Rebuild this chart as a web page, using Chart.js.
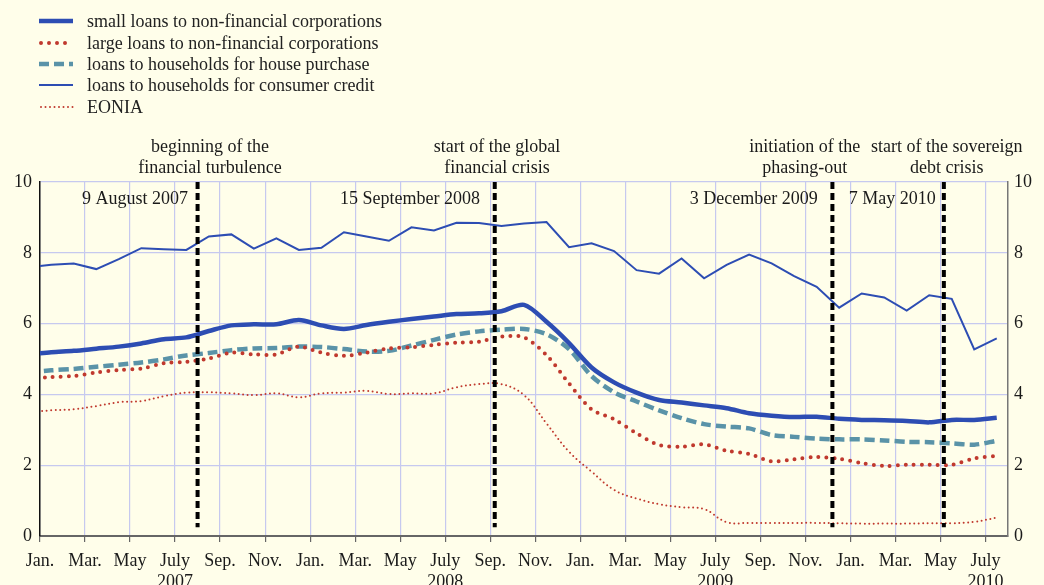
<!DOCTYPE html>
<html lang="en">
<head>
<meta charset="UTF-8">
<title>Bank lending rates and EONIA</title>
<script src="https://cdn.jsdelivr.net/npm/chart.js"></script>
<style>
  html, body { margin: 0; padding: 0; background: #fffeea; overflow: hidden; }
  #wrap { position: relative; width: 1044px; height: 600px; }
  #chart { position: absolute; left: 0; top: 0; }
  #legend { position: absolute; left: 0; top: 0; font-family: "Liberation Serif", serif; font-size: 18px; color: #222; }
  .row { position: absolute; left: 0; height: 22px; width: 420px; }
  .row svg { position: absolute; left: 0; top: 0; }
  .row span { position: absolute; left: 87px; top: 0; line-height: 22px; white-space: nowrap; }
</style>
</head>
<body>
<div id="wrap">
  <canvas id="chart" width="1044" height="600"></canvas>
  <div id="legend"></div>
</div>
<script>
// monthly points, Dec 2006 - July 2010 (the Dec 2006 point sits just left of the axis)
const months = ['Dec 2006',
  'Jan 2007','Feb 2007','Mar 2007','Apr 2007','May 2007','Jun 2007','Jul 2007','Aug 2007','Sep 2007','Oct 2007','Nov 2007','Dec 2007',
  'Jan 2008','Feb 2008','Mar 2008','Apr 2008','May 2008','Jun 2008','Jul 2008','Aug 2008','Sep 2008','Oct 2008','Nov 2008','Dec 2008',
  'Jan 2009','Feb 2009','Mar 2009','Apr 2009','May 2009','Jun 2009','Jul 2009','Aug 2009','Sep 2009','Oct 2009','Nov 2009','Dec 2009',
  'Jan 2010','Feb 2010','Mar 2010','Apr 2010','May 2010','Jun 2010','Jul 2010'];

const smallLoans = [5.13,
  5.19, 5.23, 5.29, 5.35, 5.44, 5.56, 5.61, 5.79, 5.95, 5.98, 5.98, 6.10,
  5.95, 5.85, 5.96, 6.05, 6.13, 6.20, 6.27, 6.29, 6.35, 6.53, 6.05, 5.45,
  4.76, 4.34, 4.05, 3.84, 3.77, 3.69, 3.61, 3.47, 3.40, 3.36, 3.37, 3.31,
  3.28, 3.27, 3.25, 3.21, 3.28, 3.28, 3.34];

const largeLoans = [4.45,
  4.49, 4.52, 4.62, 4.69, 4.73, 4.88, 4.92, 5.01, 5.18, 5.13, 5.13, 5.35,
  5.18, 5.09, 5.18, 5.30, 5.33, 5.40, 5.46, 5.49, 5.63, 5.61, 5.11, 4.31,
  3.58, 3.30, 2.90, 2.57, 2.52, 2.59, 2.41, 2.32, 2.11, 2.17, 2.23, 2.18,
  2.06, 1.98, 2.01, 2.01, 2.01, 2.19, 2.26];

const housePurchase = [4.62,
  4.68, 4.72, 4.78, 4.84, 4.90, 4.99, 5.10, 5.17, 5.25, 5.30, 5.31, 5.35,
  5.34, 5.28, 5.21, 5.23, 5.38, 5.54, 5.69, 5.78, 5.83, 5.85, 5.70, 5.28,
  4.52, 4.06, 3.80, 3.55, 3.33, 3.16, 3.09, 3.04, 2.85, 2.80, 2.75, 2.73,
  2.73, 2.70, 2.66, 2.65, 2.62, 2.58, 2.69];

const consumerCredit = [7.60,
  7.66, 7.70, 7.54, 7.82, 8.13, 8.10, 8.08, 8.46, 8.52, 8.12, 8.41, 8.08,
  8.14, 8.58, 8.46, 8.34, 8.72, 8.63, 8.85, 8.84, 8.76, 8.83, 8.87, 8.16,
  8.27, 8.05, 7.51, 7.41, 7.84, 7.28, 7.66, 7.95, 7.70, 7.34, 7.04, 6.45,
  6.85, 6.74, 6.37, 6.80, 6.70, 5.27, 5.58];

const eonia = [3.50,
  3.55, 3.58, 3.67, 3.78, 3.81, 3.95, 4.05, 4.06, 4.03, 3.98, 4.03, 3.92,
  4.03, 4.05, 4.10, 4.01, 4.03, 4.03, 4.20, 4.29, 4.29, 3.98, 3.18, 2.38,
  1.82, 1.30, 1.06, 0.90, 0.81, 0.76, 0.39, 0.37, 0.37, 0.37, 0.37, 0.36,
  0.35, 0.35, 0.35, 0.36, 0.36, 0.40, 0.52];

// x-axis tick labels, every two months from Jan 2007
const tickLabels = [
  'Jan.', 'Mar.', 'May', ['July', '2007'], 'Sep.', 'Nov.',
  'Jan.', 'Mar.', 'May', ['July', '2008'], 'Sep.', 'Nov.',
  'Jan.', 'Mar.', 'May', ['July', '2009'], 'Sep.', 'Nov.',
  'Jan.', 'Mar.', 'May', ['July', '2010']];

// events (months counted from the start of Jan 2007)
const eventMonth = [7.0, 20.2, 35.2, 40.15];
const eventTitle = [['beginning of the', 'financial turbulence'], ['start of the global', 'financial crisis'],
                    ['initiation of the', 'phasing-out'], ['start of the sovereign', 'debt crisis']];
const eventTitleAt = [7.55, 20.3, 33.97, 40.28];
const eventDate = ['9 August 2007', '15 September 2008', '3 December 2009', '7 May 2010'];
const eventDateEnd = [6.57, 19.54, 34.55, 39.79];

const BLUE = '#2d4db3', RED = '#c0392e', TEAL = '#5a93a8';
const GRID = '#c6c9ef';
const FONT = '"Liberation Serif", "Times New Roman", serif';

const pts = vals => vals.map((v, i) => ({ x: i - 0.5, y: v }));

const series = [
  { label: 'small loans to non-financial corporations', data: smallLoans, color: BLUE, width: 4.5, dash: [], cap: 'butt', tension: 0.3 },
  { label: 'large loans to non-financial corporations', data: largeLoans, color: RED, width: 4, dash: [0, 8], cap: 'round', tension: 0.3 },
  { label: 'loans to households for house purchase', data: housePurchase, color: TEAL, width: 4.5, dash: [10, 5], cap: 'butt', tension: 0.3 },
  { label: 'loans to households for consumer credit', data: consumerCredit, color: BLUE, width: 2, dash: [], cap: 'butt', tension: 0 },
  { label: 'EONIA', data: eonia, color: RED, width: 2, dash: [0, 4.5], cap: 'round', tension: 0.4 }
];

// legend
const legend = document.getElementById('legend');
const rowCentre = [21, 43, 64, 85, 107];
series.forEach((s, i) => {
  const row = document.createElement('div');
  row.className = 'row';
  row.style.top = (rowCentre[i] - 11) + 'px';
  const dash = s.dash.length ? `stroke-dasharray="${s.dash.join(' ')}"` : '';
  row.innerHTML = `<svg width="80" height="22"><line x1="${s.cap === 'round' ? 41 : 39}" y1="11" x2="73" y2="11"
      stroke="${s.color}" stroke-width="${s.width}" stroke-linecap="${s.cap}" ${dash}/></svg><span></span>`;
  row.querySelector('span').textContent = s.label;
  legend.appendChild(row);
});

const eventsPlugin = {
  id: 'events',
  afterDatasetsDraw(chart) {
    const { ctx, chartArea, scales: { x, y } } = chart;
    ctx.save();
    eventMonth.forEach((m, i) => {
      const px = x.getPixelForValue(m);
      ctx.setLineDash([7, 4]);
      ctx.lineWidth = 4;
      ctx.strokeStyle = '#000';
      ctx.beginPath();
      ctx.moveTo(px, chartArea.top);
      ctx.lineTo(px, y.getPixelForValue(0.25));
      ctx.stroke();

      ctx.setLineDash([]);
      ctx.fillStyle = '#1a1a1a';
      ctx.font = '18px ' + FONT;
      ctx.textBaseline = 'middle';
      ctx.textAlign = 'center';
      const tx = x.getPixelForValue(eventTitleAt[i]);
      ctx.fillText(eventTitle[i][0], tx, chartArea.top - 35);
      ctx.fillText(eventTitle[i][1], tx, chartArea.top - 14);
      ctx.textAlign = 'right';
      ctx.fillText(eventDate[i], x.getPixelForValue(eventDateEnd[i]), chartArea.top + 17);
    });
    ctx.restore();
  }
};

Chart.defaults.font.family = FONT;
Chart.defaults.font.size = 18;
Chart.defaults.color = '#1a1a1a';

new Chart(document.getElementById('chart'), {
  type: 'line',
  data: {
    labels: months,
    datasets: series.map(s => ({
      label: s.label,
      data: pts(s.data),
      borderColor: s.color,
      borderWidth: s.width,
      borderDash: s.dash,
      borderCapStyle: s.cap,
      tension: s.tension,
      pointRadius: 0,
      fill: false,
      clip: 0
    }))
  },
  options: {
    responsive: false,
    animation: false,
    layout: { padding: { top: 182, left: 0, right: 0, bottom: 0 } },
    plugins: { legend: { display: false }, tooltip: { enabled: false } },
    scales: {
      x: {
        type: 'linear',
        min: 0,
        max: 43,
        afterFit: s => { s.height = 64; },
        ticks: {
          stepSize: 2,
          includeBounds: false,
          autoSkip: false,
          maxRotation: 0,
          padding: 8,
          callback: v => tickLabels[v / 2]
        },
        grid: { color: GRID, lineWidth: 1.2, tickColor: '#666', tickLength: 6 },
        border: { color: '#666', width: 2 }
      },
      y: {
        min: 0,
        max: 10,
        afterFit: s => { s.width = 40; },
        ticks: { stepSize: 2, padding: 8 },
        grid: { color: GRID, lineWidth: 1.2, drawTicks: false },
        border: { color: '#111', width: 1.5 }
      },
      y2: {
        position: 'right',
        min: 0,
        max: 10,
        afterFit: s => { s.width = 36; },
        ticks: { stepSize: 2, padding: 6 },
        grid: { drawOnChartArea: false, drawTicks: false },
        border: { color: '#777', width: 1.5 }
      }
    }
  },
  plugins: [eventsPlugin]
});
</script>
</body>
</html>
